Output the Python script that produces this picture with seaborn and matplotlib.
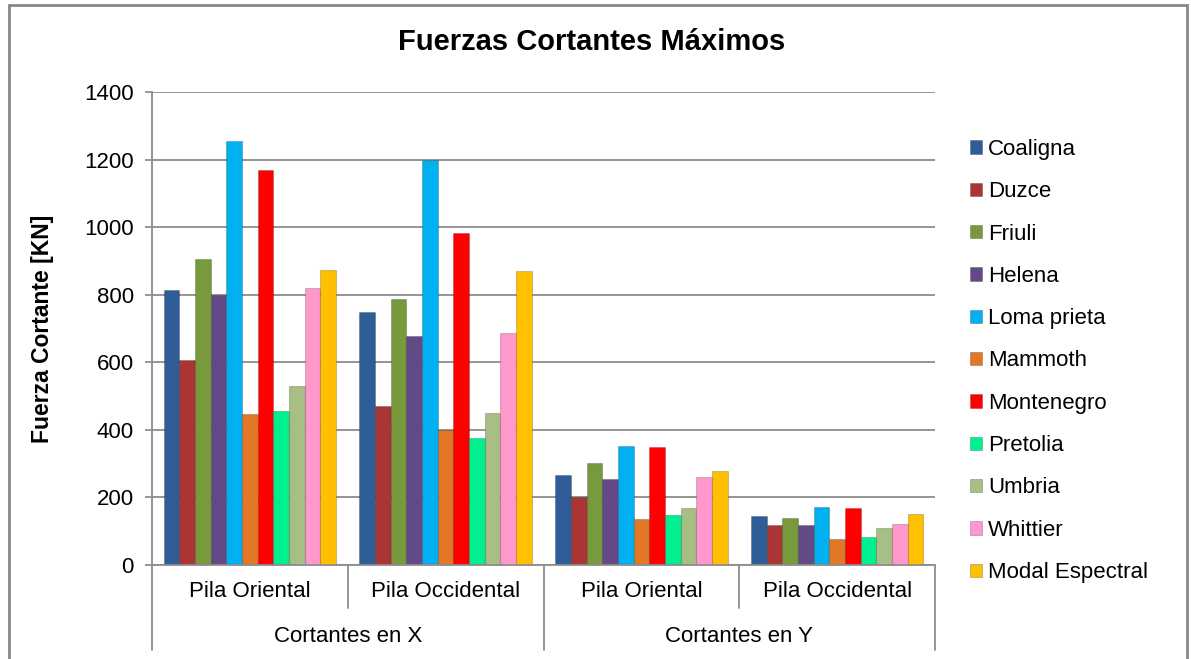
#
# Fuerzas cortantes maximos - barras agrupadas
#

import matplotlib
matplotlib.use("Agg")
import matplotlib.pyplot as plt
import matplotlib.transforms as mtransforms
from matplotlib.patches import Patch, Rectangle
import seaborn as sns
import pandas as pd

sismos = ['Coaligna', 'Duzce', 'Friuli', 'Helena', 'Loma prieta', 'Mammoth',
          'Montenegro', 'Pretolia', 'Umbria', 'Whittier', 'Modal Espectral']
grupos = ['X Pila Oriental', 'X Pila Occidental', 'Y Pila Oriental', 'Y Pila Occidental']
pilas = ['Pila Oriental', 'Pila Occidental', 'Pila Oriental', 'Pila Occidental']
direcciones = ['Cortantes en X', 'Cortantes en Y']

x_oriental = [815, 606, 905, 800, 1256, 448, 1168, 456, 529, 820, 872]
x_occidental = [748, 472, 786, 679, 1200, 401, 982, 375, 449, 686, 870]
y_oriental = [267, 201, 302, 256, 353, 135, 350, 149, 169, 260, 277]
y_occidental = [146, 119, 139, 119, 173, 77, 168, 83, 110, 121, 152]

colores = ['#2F5D97', '#AA3535', '#789A3D', '#634A87', '#00B0F0', '#E27826',
           '#FF0000', '#00F090', '#A7BE84', '#FF99CC', '#FFC000']

if __name__ == '__main__':

    sns.set_theme(style="white")
    plt.rcParams['font.family'] = ['Liberation Sans', 'DejaVu Sans']
    plt.rcParams['text.color'] = 'black'
    plt.rcParams['axes.labelcolor'] = 'black'
    plt.rcParams['ytick.labelcolor'] = 'black'

    data = pd.DataFrame({
        'grupo': [g for g in grupos for _ in sismos],
        'sismo': sismos * 4,
        'valor': x_oriental + x_occidental + y_oriental + y_occidental,
    })

    fig = plt.figure(figsize=(11.91, 6.59), dpi=100)
    ax = fig.add_axes([152 / 1191, 1 - 565 / 659, (935 - 152) / 1191, (565 - 92) / 659])

    sns.barplot(data=data, x='grupo', y='valor', hue='sismo', order=grupos, hue_order=sismos,
                palette=colores, width=0.88, gap=0, saturation=1, ax=ax, legend=False,
                edgecolor='#00000030', linewidth=0.8)

    ax.set_ylim(0, 1400)
    ax.set_xlim(-0.5, 3.5)
    ax.set_yticks(range(0, 1401, 200))
    ax.yaxis.grid(True, color='#8C8C8C', linewidth=1.3)
    ax.set_axisbelow(True)
    for s in ['top', 'right']:
        ax.spines[s].set_visible(False)
    for s in ['left', 'bottom']:
        ax.spines[s].set_color('#8C8C8C')
        ax.spines[s].set_linewidth(1.3)
    ax.tick_params(axis='y', left=True, length=5, color='#8C8C8C', labelsize=16, pad=8)
    ax.tick_params(axis='x', bottom=False, labelbottom=False)
    ax.set_xlabel('')
    ax.set_ylabel('Fuerza Cortante [KN]', fontsize=16.5, fontweight='bold', labelpad=22)
    fig.text(592 / 1191, 1 - 42 / 659, 'Fuerzas Cortantes Máximos', fontsize=21,
             fontweight='bold', ha='center', va='center')

    # Etiquetas de categoria en dos niveles
    trans = mtransforms.blended_transform_factory(ax.transData, ax.transAxes)
    for i, p in enumerate(pilas):
        ax.text(i, -0.057, p, transform=trans, ha='center', va='center', fontsize=16)
    for j, d in enumerate(direcciones):
        ax.text(2 * j + 0.5, -0.152, d, transform=trans, ha='center', va='center', fontsize=16)
    for xs in [0.5, 2.5]:
        ax.plot([xs, xs], [0, -0.091], transform=trans, color='#8C8C8C', lw=1.3, clip_on=False)
    for xs in [-0.5, 1.5, 3.5]:
        ax.plot([xs, xs], [0, -0.18], transform=trans, color='#8C8C8C', lw=1.3, clip_on=False)

    handles = [Patch(facecolor=c, edgecolor='#00000040', linewidth=0.6) for c in colores]
    fig.legend(handles, sismos, loc='center left', bbox_to_anchor=(970 / 1191, 1 - 361 / 659),
               frameon=False, fontsize=16, handlelength=0.55, handleheight=0.55,
               handletextpad=0.25, labelspacing=0.96, borderpad=0, borderaxespad=0)

    # Marco exterior
    fig.add_artist(Rectangle((9 / 1191, -0.05), (1187 - 9) / 1191, 1.05 - 5 / 659,
                             transform=fig.transFigure, fill=False, edgecolor='#878787',
                             linewidth=2))

    plt.savefig('out.png', dpi=100)
